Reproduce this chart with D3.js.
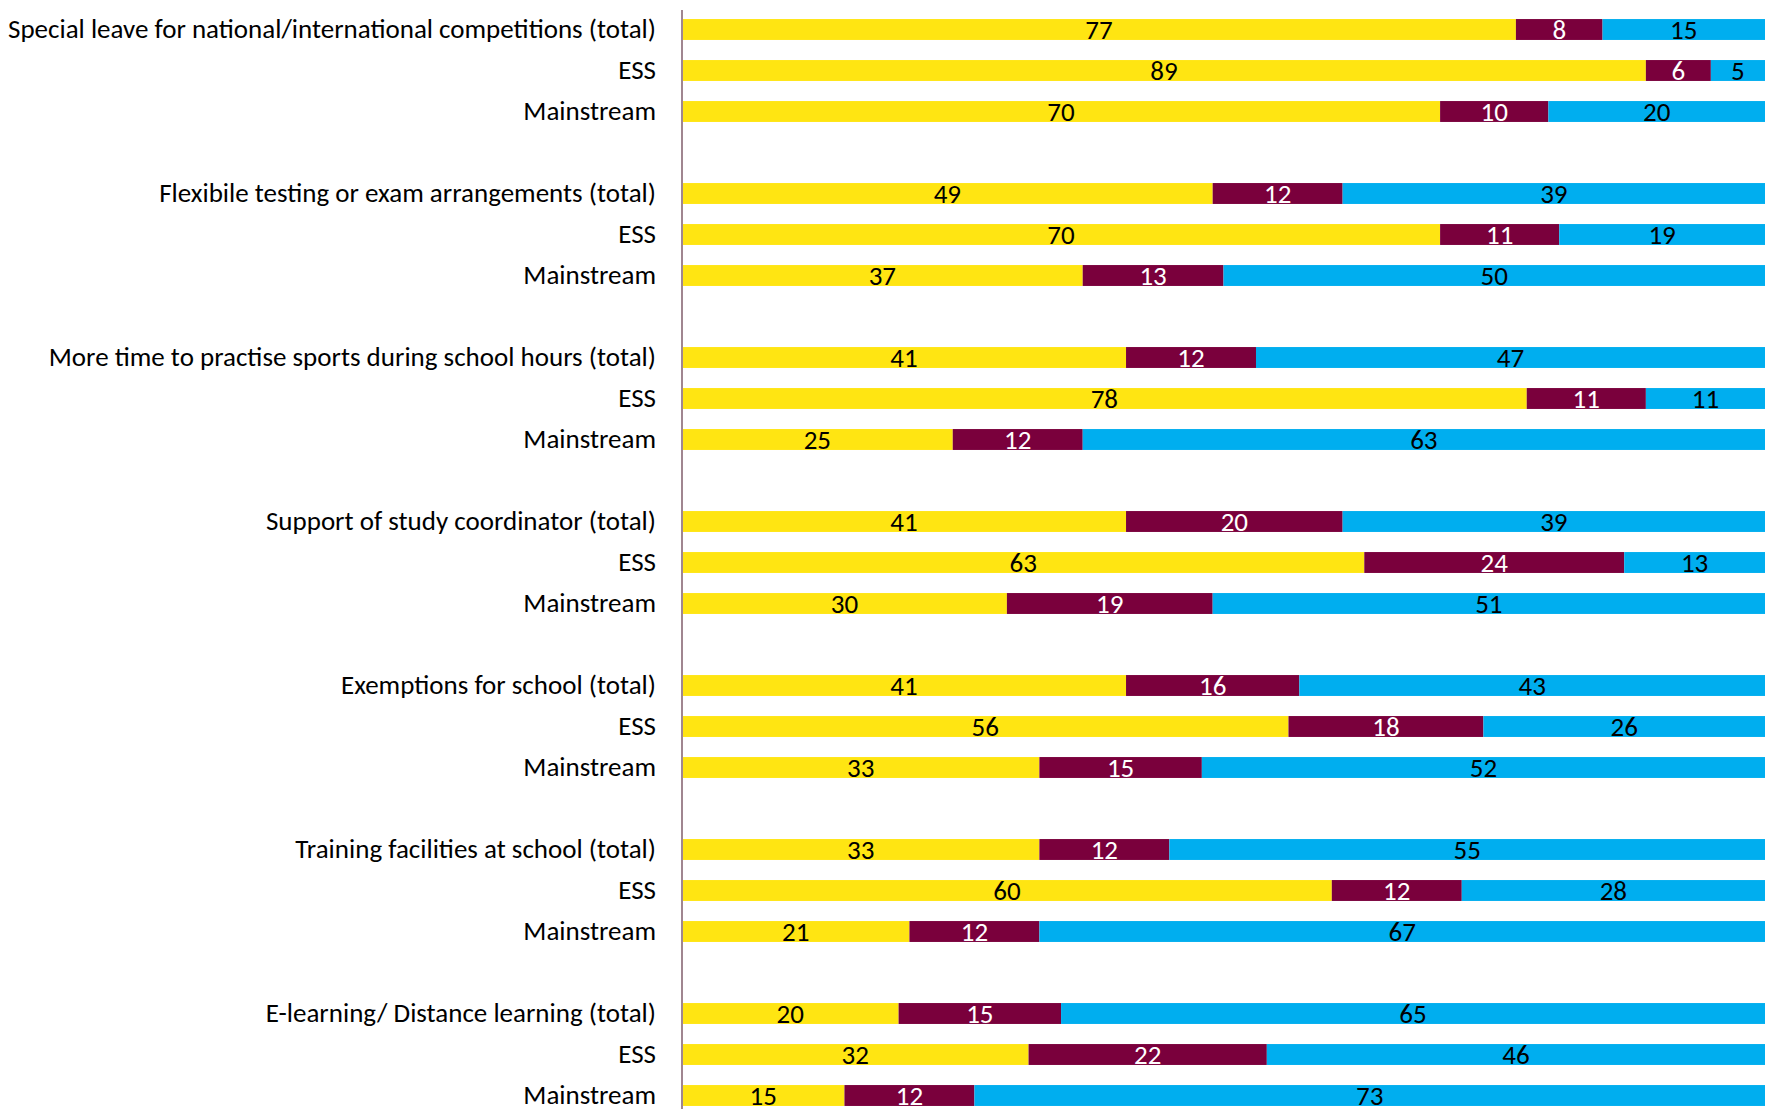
<!DOCTYPE html>
<html>
<head>
<meta charset="utf-8">
<script src="https://cdn.jsdelivr.net/npm/d3@7"></script>
<style>
  html, body { margin: 0; padding: 0; background: #ffffff; }
  svg { display: block; }
  text { font-family: Carlito, "Liberation Sans Narrow", "Open Sans", sans-serif; }
</style>
</head>
<body>
<svg id="chart" width="1770" height="1109"></svg>
<script>
// Survey items, each shown as a total row followed by ESS and Mainstream rows
const items = [
  "Special leave for national/international competitions (total)",
  "Flexibile testing or exam arrangements (total)",
  "More time to practise sports during school hours (total)",
  "Support of study coordinator (total)",
  "Exemptions for school (total)",
  "Training facilities at school (total)",
  "E-learning/ Distance learning (total)"
];
const subgroups = ["ESS", "Mainstream"];

// Percentages per row (total, ESS, Mainstream for each item)
const yesValues = [77, 89, 70, 49, 70, 37, 41, 78, 25, 41, 63, 30, 41, 56, 33, 33, 60, 21, 20, 32, 15];
const midValues = [8, 6, 10, 12, 11, 13, 12, 11, 12, 20, 24, 19, 16, 18, 15, 12, 12, 12, 15, 22, 12];
const noValues  = [15, 5, 20, 39, 19, 50, 47, 11, 63, 39, 13, 51, 43, 26, 52, 55, 28, 67, 65, 46, 73];

const seriesKeys = ["yes", "mid", "no"];
const seriesColors = { yes: "#FFE512", mid: "#7A003C", no: "#00AEEF" };
const labelColors = { yes: "#000000", mid: "#ffffff", no: "#000000" };

// Build rows, with one empty slot between item groups
const rows = [];
const slots = [];
items.forEach((item, i) => {
  const labels = [item, ...subgroups];
  labels.forEach((lab, j) => {
    const k = i * 3 + j;
    const id = "r" + k;
    rows.push({ id, label: lab, yes: yesValues[k], mid: midValues[k], no: noValues[k] });
    slots.push(id);
  });
  if (i < items.length - 1) slots.push("gap" + i);
});

const svg = d3.select("#chart");
const margin = { left: 682, right: 5, top: 9, bottom: 0 };
const W = 1770, H = 1109;
const fontSize = 27;

const x = d3.scaleLinear().domain([0, 100]).range([margin.left, W - margin.right]);
const y = d3.scaleBand()
  .domain(slots)
  .range([margin.top, margin.top + 41 * slots.length])
  .paddingInner(0.49)
  .paddingOuter(0.245);

const stack = d3.stack().keys(seriesKeys);
const stacked = stack(rows);

const layers = svg.append("g")
  .selectAll("g")
  .data(stacked)
  .join("g")
  .attr("fill", d => seriesColors[d.key]);

layers.selectAll("rect")
  .data(d => d.map(v => Object.assign(v, { key: d.key })))
  .join("rect")
  .attr("x", d => x(d[0]))
  .attr("y", d => y(d.data.id))
  .attr("width", d => x(d[1]) - x(d[0]))
  .attr("height", y.bandwidth());

// Value labels centred in each segment
layers.selectAll("text")
  .data(d => d)
  .join("text")
  .attr("x", d => (x(d[0]) + x(d[1])) / 2)
  .attr("y", d => y(d.data.id) + y.bandwidth() / 2 + 9.3)
  .attr("text-anchor", "middle")
  .attr("font-size", fontSize)
  .attr("fill", d => labelColors[d.key])
  .text(d => d[1] - d[0]);

// Category axis on the left
const yAxis = d3.axisLeft(y)
  .tickValues(rows.map(r => r.id))
  .tickFormat(id => rows.find(r => r.id === id).label)
  .tickSize(0)
  .tickPadding(26);

const axisG = svg.append("g")
  .attr("transform", `translate(${margin.left},0)`)
  .call(yAxis);

axisG.select(".domain").remove();
axisG.selectAll("text")
  .attr("font-size", fontSize)
  .attr("fill", "#000")
  .attr("dy", "0.33em")
  .style("font-family", 'Carlito, "Liberation Sans Narrow", "Open Sans", sans-serif');

svg.append("line")
  .attr("x1", margin.left)
  .attr("x2", margin.left)
  .attr("y1", 10)
  .attr("y2", H)
  .attr("stroke", "#A08690")
  .attr("stroke-width", 2);
</script>
</body>
</html>
